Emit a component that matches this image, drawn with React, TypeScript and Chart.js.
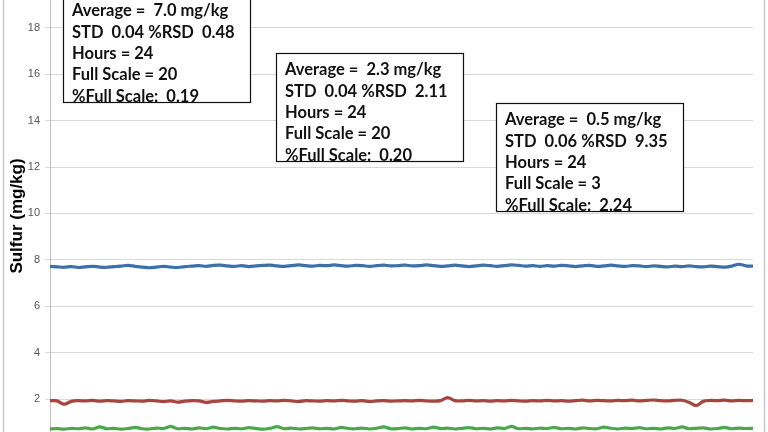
import React, { useEffect, useRef } from "react";
import { Chart, registerables } from "chart.js";

Chart.register(...registerables);

const blueValues = [
  7.72, 7.70, 7.68, 7.71, 7.67, 7.70, 7.72, 7.69, 7.68, 7.71,
  7.73, 7.76, 7.72, 7.69, 7.66, 7.69, 7.72, 7.69, 7.67, 7.71,
  7.73, 7.75, 7.72, 7.76, 7.77, 7.74, 7.72, 7.75, 7.71, 7.74,
  7.76, 7.77, 7.74, 7.72, 7.75, 7.78, 7.75, 7.73, 7.76, 7.75,
  7.78, 7.75, 7.73, 7.76, 7.75, 7.72, 7.75, 7.77, 7.74, 7.75,
  7.77, 7.74, 7.75, 7.78, 7.75, 7.72, 7.74, 7.77, 7.74, 7.71,
  7.74, 7.77, 7.75, 7.72, 7.75, 7.78, 7.76, 7.73, 7.75, 7.72,
  7.75, 7.73, 7.76, 7.74, 7.71, 7.74, 7.76, 7.72, 7.74, 7.77,
  7.74, 7.72, 7.75, 7.74, 7.71, 7.74, 7.72, 7.70, 7.73, 7.71,
  7.74, 7.71, 7.70, 7.73, 7.71, 7.69, 7.73, 7.81, 7.74, 7.73,
];

const redValues = [
  1.93, 1.92, 1.78, 1.90, 1.93, 1.92, 1.94, 1.91, 1.93, 1.92,
  1.90, 1.93, 1.92, 1.91, 1.94, 1.92, 1.89, 1.92, 1.87, 1.91,
  1.93, 1.92, 1.86, 1.90, 1.92, 1.94, 1.92, 1.91, 1.93, 1.92,
  1.91, 1.93, 1.92, 1.94, 1.92, 1.89, 1.93, 1.92, 1.91, 1.93,
  1.92, 1.94, 1.92, 1.91, 1.93, 1.89, 1.92, 1.93, 1.91, 1.92,
  1.93, 1.92, 1.94, 1.92, 1.91, 1.93, 2.06, 1.93, 1.92, 1.94,
  1.92, 1.93, 1.91, 1.93, 1.92, 1.94, 1.92, 1.91, 1.93, 1.92,
  1.94, 1.92, 1.93, 1.91, 1.93, 1.95, 1.92, 1.94, 1.93, 1.92,
  1.94, 1.93, 1.95, 1.92, 1.94, 1.96, 1.93, 1.92, 1.94, 1.95,
  1.86, 1.72, 1.90, 1.94, 1.93, 1.95, 1.92, 1.94, 1.93, 1.94,
];

const greenValues = [
  0.71, 0.73, 0.70, 0.74, 0.72, 0.76, 0.71, 0.80, 0.72, 0.74,
  0.70, 0.73, 0.78, 0.72, 0.71, 0.75, 0.73, 0.82, 0.72, 0.74,
  0.71, 0.76, 0.72, 0.79, 0.73, 0.71, 0.74, 0.72, 0.77, 0.73,
  0.70, 0.74, 0.81, 0.72, 0.75, 0.71, 0.73, 0.76, 0.72, 0.74,
  0.71, 0.78, 0.73, 0.72, 0.75, 0.71, 0.74, 0.80, 0.72, 0.73,
  0.76, 0.71, 0.74, 0.72, 0.79, 0.73, 0.75, 0.71, 0.74, 0.77,
  0.72, 0.74, 0.71, 0.76, 0.73, 0.82, 0.72, 0.74, 0.71, 0.75,
  0.73, 0.78, 0.72, 0.74, 0.71, 0.76, 0.73, 0.72, 0.79, 0.74,
  0.71, 0.75, 0.73, 0.77, 0.72, 0.74, 0.71, 0.76, 0.73, 0.80,
  0.72, 0.74, 0.76, 0.71, 0.73, 0.78, 0.72, 0.75, 0.73, 0.74,
];

const sampleLabels = blueValues.map((_, i) => String(i + 1));

const yTickValues = [2, 4, 6, 8, 10, 12, 14, 16, 18];

const box1Lines = ["Average =  7.0 mg/kg", "STD  0.04 %RSD  0.48", "Hours = 24", "Full Scale = 20", "%Full Scale:  0.19"];
const box2Lines = ["Average =  2.3 mg/kg", "STD  0.04 %RSD  2.11", "Hours = 24", "Full Scale = 20", "%Full Scale:  0.20"];
const box3Lines = ["Average =  0.5 mg/kg", "STD  0.06 %RSD  9.35", "Hours = 24", "Full Scale = 3", "%Full Scale:  2.24"];

const boxes = [
  { x: 63, y: -6, lines: box1Lines },
  { x: 276, y: 53, lines: box2Lines },
  { x: 496, y: 103, lines: box3Lines },
];

const annotationPlugin = {
  id: "annot",
  beforeDraw(chart: any) {
    const ctx = chart.ctx;
    ctx.save();
    ctx.strokeStyle = "#c8c8c8";
    ctx.lineWidth = 1.5;
    ctx.beginPath();
    ctx.moveTo(3.5, 0);
    ctx.lineTo(3.5, 432);
    ctx.moveTo(764.5, 0);
    ctx.lineTo(764.5, 432);
    ctx.stroke();
    ctx.restore();
  },
  afterDraw(chart: any) {
    const ctx = chart.ctx;
    const w = 187;
    const h = 108;
    for (const b of boxes) {
      ctx.save();
      ctx.fillStyle = "#ffffff";
      ctx.fillRect(b.x, b.y, w, h);
      ctx.beginPath();
      ctx.rect(b.x, b.y, w, h);
      ctx.clip();
      ctx.fillStyle = "#111111";
      ctx.font = "bold 16.5px Lato, 'Open Sans', sans-serif";
      ctx.textBaseline = "middle";
      b.lines.forEach((line: string, i: number) => {
        ctx.fillText(line, b.x + 9, b.y + 17 + i * 21.3);
      });
      ctx.restore();
      ctx.save();
      ctx.strokeStyle = "#111111";
      ctx.lineWidth = 1.2;
      ctx.strokeRect(b.x + 0.5, b.y + 0.5, w, h);
      ctx.restore();
    }
  },
};

export default function App() {
  const canvasRef = useRef<HTMLCanvasElement | null>(null);

  useEffect(() => {
    if (!canvasRef.current) return;
    const chart = new Chart(canvasRef.current, {
      type: "line",
      data: {
        labels: sampleLabels,
        datasets: [
          { label: "High", data: blueValues, borderColor: "#3d6fa8", borderWidth: 3.2, pointRadius: 0, tension: 0.35 },
          { label: "Mid", data: redValues, borderColor: "#a8443f", borderWidth: 3.2, pointRadius: 0, tension: 0.35 },
          { label: "Low", data: greenValues, borderColor: "#4aa84a", borderWidth: 3.2, pointRadius: 0, tension: 0.2 },
        ],
      },
      options: {
        responsive: false,
        animation: false,
        layout: { padding: { left: 0, right: 15, top: 0, bottom: 0 } },
        plugins: { legend: { display: false }, tooltip: { enabled: false } },
        scales: {
          x: { display: false, offset: false },
          y: {
            min: 0.58,
            max: 19.2,
            afterBuildTicks: (scale: any) => {
              scale.ticks = yTickValues.map((v) => ({ value: v }));
            },
            afterFit: (scale: any) => {
              scale.width = 50;
              scale.paddingTop = 0;
              scale.paddingBottom = 0;
            },
            border: { display: true, color: "#bfbfbf", width: 1 },
            grid: { color: "#d9d9d9", lineWidth: 1, tickLength: 5, drawTicks: true },
            ticks: { color: "#555555", padding: 5, font: { family: "Liberation Sans, Arial, sans-serif", size: 11 } },
            title: {
              display: true,
              text: "Sulfur (mg/kg)",
              color: "#000000",
              padding: { top: 7, bottom: 0 },
              font: { family: "Liberation Sans, Arial, sans-serif", size: 17, weight: "bold" },
            },
          },
        },
      },
      plugins: [annotationPlugin],
    });
    return () => chart.destroy();
  }, []);

  return (
    <div style={{ position: "absolute", left: 0, top: 0, width: 768, height: 432, background: "#ffffff" }}>
      <canvas ref={canvasRef} width={768} height={432} />
    </div>
  );
}
